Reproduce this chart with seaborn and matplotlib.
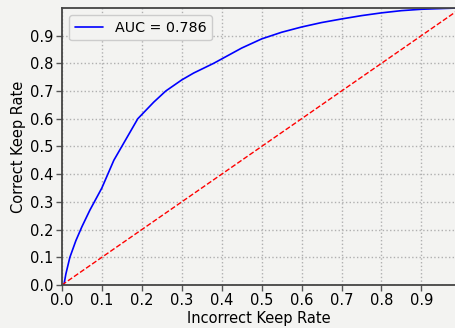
import numpy as np
import pandas as pd
import matplotlib
matplotlib.use('Agg')
import matplotlib.pyplot as plt
import seaborn as sns

sns.set_style("whitegrid")
plt.rcParams['font.family'] = ['DejaVu Sans']
plt.rcParams['text.color'] = 'black'
plt.rcParams['axes.labelcolor'] = 'black'
plt.rcParams['xtick.color'] = 'black'
plt.rcParams['ytick.color'] = 'black'

# ROC curve points
fpr = [0.0, 0.005, 0.01, 0.02, 0.035, 0.05, 0.07, 0.1, 0.13, 0.16, 0.19, 0.23,
       0.26, 0.3, 0.33, 0.38, 0.45, 0.5, 0.55, 0.6, 0.65, 0.7, 0.75, 0.8,
       0.85, 0.9, 1.0]
tpr = [0.0, 0.0, 0.04, 0.1, 0.16, 0.21, 0.27, 0.35, 0.45, 0.525, 0.6, 0.66,
       0.7, 0.74, 0.765, 0.8, 0.855, 0.888, 0.912, 0.931, 0.947, 0.96, 0.972,
       0.982, 0.99, 0.995, 1.0]
auc_label = 'AUC = 0.786'
chance = [0.0, 1.0]

bg = '#f3f3f1'
fig = plt.figure(figsize=(4.55, 3.28), dpi=100, facecolor=bg)
ax = fig.add_axes([0.136, 0.131, 0.864, 0.845])
ax.set_facecolor(bg)

df = pd.DataFrame({'fpr': fpr, 'tpr': tpr})
sns.lineplot(data=df, x='fpr', y='tpr', ax=ax, color='blue', lw=1.2,
             label=auc_label, sort=False, estimator=None)
ax.plot(chance, chance, 'r--', lw=1)

ticks = np.arange(0, 1.0, 0.1)
ax.set_xlim(0, 0.984)
ax.set_ylim(0, 1.0)
ax.set_xticks(ticks)
ax.set_yticks(ticks)
ax.set_xticklabels(['%.1f' % v for v in ticks])
ax.set_yticklabels(['%.1f' % v for v in ticks])
ax.tick_params(axis='both', labelsize=10.5, length=4, width=1, color='#555555',
               labelcolor='black', direction='out', left=True, bottom=True,
               pad=2)
ax.grid(True, linestyle=':', color='#b0b0b0', lw=1)
ax.set_xlabel('Incorrect Keep Rate', fontsize=10.5, labelpad=2)
ax.set_ylabel('Correct Keep Rate', fontsize=10.5, labelpad=3)
for s in ['left', 'bottom', 'top']:
    ax.spines[s].set_color('#444444')
    ax.spines[s].set_linewidth(1.3)
ax.spines['right'].set_visible(False)
ax.legend(loc='upper left', fontsize=10.3, facecolor=bg, edgecolor='#cccccc',
          framealpha=1)

fig.savefig('out.png', dpi=100, facecolor=bg)
